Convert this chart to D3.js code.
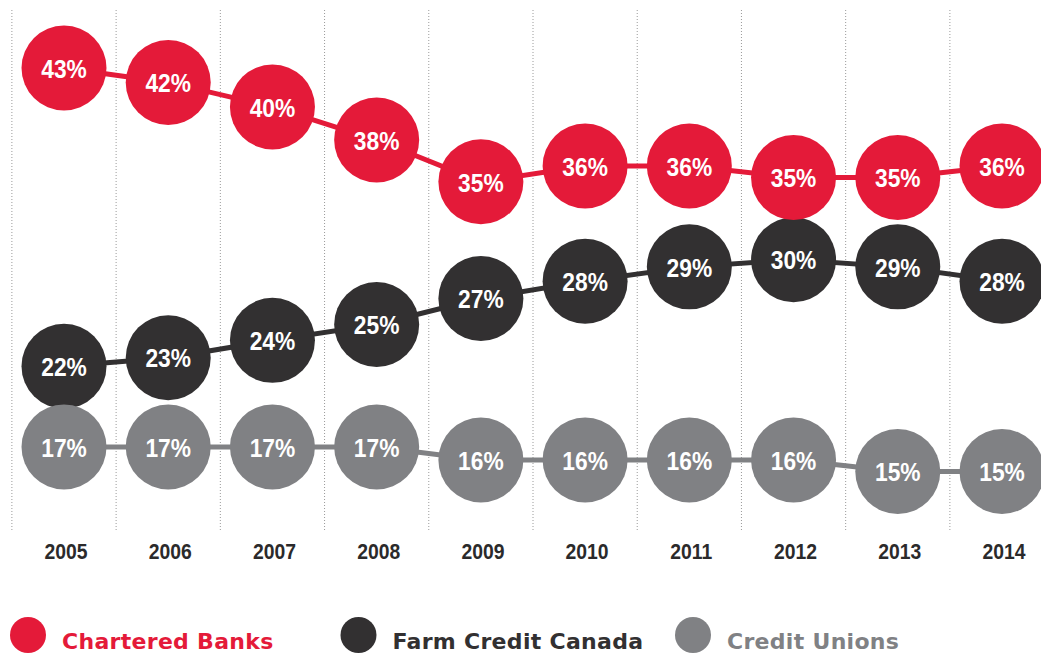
<!DOCTYPE html>
<html>
<head>
<meta charset="utf-8">
<script src="https://cdn.jsdelivr.net/npm/d3@7"></script>
<style>
body{margin:0;background:#fff;}
svg{display:block;}
</style>
</head>
<body>
<div id="plot"></div>
<script>
var years = [2005,2006,2007,2008,2009,2010,2011,2012,2013,2014];

// values estimated from circle positions; labels show rounded value
var chartered = [43,42,40.3,38,35.1,36.2,36.2,35.4,35.4,36.2];
var farmCredit = [22.3,22.9,24.1,25.2,27,28.2,29.2,29.7,29.2,28.2];
var creditUnions = [16.7,16.7,16.7,16.7,15.8,15.8,15.8,15.8,15,15];

var seriesNames = ['Chartered Banks','Farm Credit Canada','Credit Unions'];
var colors = ['#e41a39','#323031','#808184'];

var width = 1041, height = 653;
var narrow = '"Liberation Sans",Arial,sans-serif';

var svg = d3.select('#plot')
	.append('svg')
	.attr('width',width)
	.attr('height',height);

var x = d3.scaleLinear().domain([2005,2014]).range([64,1002]);
var y = d3.scaleLinear().domain([15,43]).range([471.5,68]);
var step = x(2006)-x(2005);
var r = 42.5;

//dotted guides between years
svg.append('g').selectAll('line')
	.data(years)
	.enter().append('line')
	.attr('x1',function(d){return x(d)-step/2;})
	.attr('x2',function(d){return x(d)-step/2;})
	.attr('y1',10)
	.attr('y2',530)
	.style('stroke','#9a9a9a')
	.style('stroke-width',1)
	.style('stroke-dasharray','1,2');

//year labels (squeezed horizontally to look condensed)
svg.append('g').selectAll('text')
	.data(years)
	.enter().append('text')
	.attr('transform',function(d){return 'translate('+(x(d)+2)+',559) scale(0.86,1)';})
	.attr('text-anchor','middle')
	.style('font-family',narrow)
	.style('font-weight','bold')
	.style('font-size','22.5px')
	.style('fill','#2b2a2b')
	.text(function(d){return d;});

var series = [
	{name:seriesNames[1],values:farmCredit,color:colors[1]},
	{name:seriesNames[0],values:chartered,color:colors[0]},
	{name:seriesNames[2],values:creditUnions,color:colors[2]}
];

var line = d3.line()
	.x(function(d,i){return x(years[i]);})
	.y(function(d){return y(d);});

series.forEach(function(s){
	var g = svg.append('g');
	g.append('path')
		.datum(s.values)
		.attr('d',line)
		.style('fill','none')
		.style('stroke',s.color)
		.style('stroke-width',5);
	var dot = g.selectAll('g.dot')
		.data(s.values)
		.enter().append('g')
		.attr('class','dot')
		.attr('transform',function(d,i){return 'translate('+x(years[i])+','+y(d)+')';});
	dot.append('circle')
		.attr('r',r)
		.style('fill',s.color);
	dot.append('text')
		.attr('text-anchor','middle')
		.attr('transform','scale(0.86,1)')
		.attr('dy','0.37em')
		.style('font-family',narrow)
		.style('font-weight','bold')
		.style('font-size','26.5px')
		.style('fill','#fff')
		.text(function(d){return Math.round(d)+'%';});
});

//legend
var legendX = [28,358.5,693];
var legend = svg.append('g').selectAll('g')
	.data(seriesNames)
	.enter().append('g')
	.attr('transform',function(d,i){return 'translate('+legendX[i]+',635)';});
legend.append('circle')
	.attr('r',18)
	.style('fill',function(d,i){return colors[i];});
legend.append('text')
	.attr('x',34)
	.attr('y',13.5)
	.style('font-family','"DejaVu Sans",sans-serif')
	.style('font-weight','bold')
	.style('font-size','22px')
	.style('letter-spacing','0.3px')
	.style('fill',function(d,i){return colors[i];})
	.text(function(d){return d;});
</script>
</body>
</html>
